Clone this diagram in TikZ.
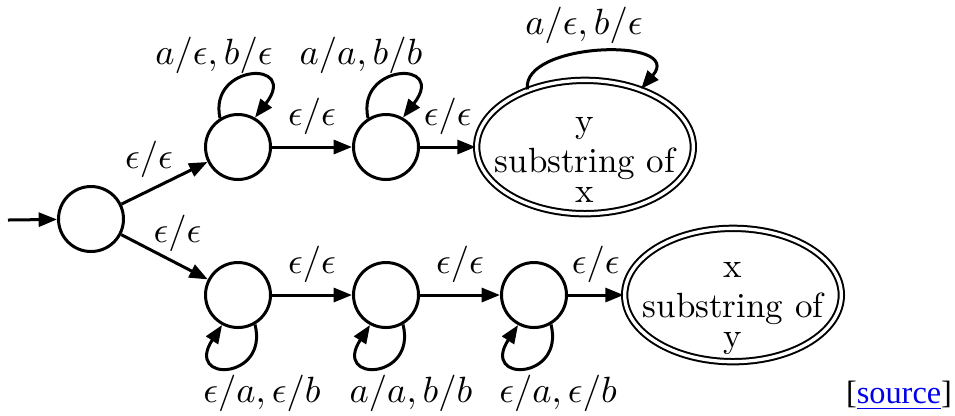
\documentclass[tikz,border=0pt]{standalone}
\usepackage{fontspec}
\usepackage{xcolor}
\usepackage{tikz}
\usetikzlibrary{arrows.meta,shapes.geometric}
\newfontfamily\srcfont{Liberation Serif}
\definecolor{linkblue}{RGB}{0,0,238}

\begin{document}
\begin{tikzpicture}[x=0.3pt,y=-0.3pt,font=\fontsize{10.5}{10.5}\selectfont,state/.style={draw,circle,line width=0.9pt,minimum size=19.5pt,inner sep=0pt},final/.style={draw,ellipse,double,line width=0.6pt,double distance=1pt,minimum width=65pt,minimum height=40pt,inner sep=0pt},inside/.style={align=center,yshift=-4pt},arr/.style={-{Triangle[length=5.5pt,width=4.2pt]},line width=0.9pt}]
\useasboundingbox (0,0) rectangle (955,415);
\coordinate (in) at (8,220); \node[state] (s0) at (91,219) {};
\node[state] (t1) at (238,147) {}; \node[state] (t2) at (386,147) {};
\node[final,label={[inside]center:y\\[1.5pt]substring of\\[-1.5pt]x}] (yx) at (585,147) {};
\node[state] (b1) at (238,295) {}; \node[state] (b2) at (386,295) {}; \node[state] (b3) at (534,295) {};
\node[final,label={[inside]center:x\\[1.5pt]substring of\\[-1.5pt]y}] (xy) at (733,295) {};
% transitions
\draw[arr] (in)--(s0);
\draw[arr] (s0)--(t1) node[pos=0.32,above]{$\epsilon/\epsilon$};
\draw[arr] (s0)--(b1) node[pos=0.65,above]{$\epsilon/\epsilon$};
\draw[arr] (t1)--(t2) node[midway,above]{$\epsilon/\epsilon$}; \draw[arr] (t2)--(yx) node[midway,above]{$\epsilon/\epsilon$};
\draw[arr] (b1)--(b2) node[midway,above]{$\epsilon/\epsilon$}; \draw[arr] (b2)--(b3) node[midway,above]{$\epsilon/\epsilon$};
\draw[arr] (b3)--(xy) node[midway,above]{$\epsilon/\epsilon$};
% loops
\draw[arr] (t1.122) .. controls +(-12,-55) and +(45,-58) .. (t1.60);
\draw[arr] (t2.122) .. controls +(-12,-55) and +(45,-58) .. (t2.60);
\draw[arr] (yx.135) .. controls +(-7,-48) and +(45,-52) .. (yx.46);
\draw[arr] (b1.-60) .. controls +(14,56) and +(-38,58) .. (b1.-118);
\draw[arr] (b2.-60) .. controls +(14,56) and +(-38,58) .. (b2.-118);
\draw[arr] (b3.-60) .. controls +(14,56) and +(-38,58) .. (b3.-118);
\node (lt1) at (214,55) {$a/\epsilon, b/\epsilon$}; \node (lt2) at (361,55) {$a/a, b/b$};
\node (lyx) at (584,25) {$a/\epsilon, b/\epsilon$};
\node (lb1) at (262,393) {$\epsilon/a, \epsilon/b$}; \node (lb2) at (411,393) {$a/a, b/b$};
\node (lb3) at (558,393) {$\epsilon/a, \epsilon/b$};
\node[font=\srcfont\fontsize{9.7}{10}\selectfont,inner sep=0pt] (src) at (899,396) {[\textcolor{linkblue}{\underline{source}}]};
\end{tikzpicture}
\end{document}
